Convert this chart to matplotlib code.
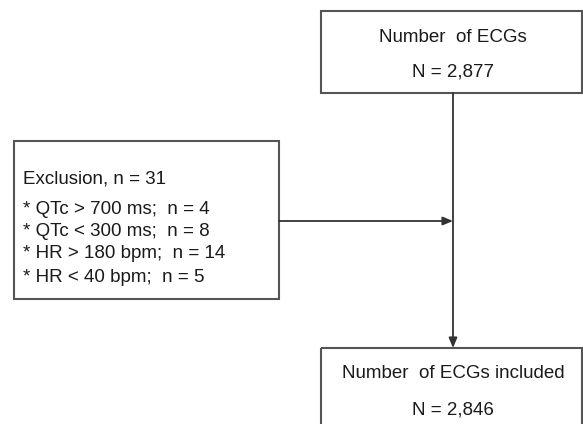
import matplotlib
matplotlib.use('Agg')
import matplotlib.pyplot as plt
from matplotlib.patches import Rectangle

# Flowchart text
top_lines = ['Number  of ECGs', 'N = 2,877']
exclusion_lines = [
    'Exclusion, n = 31',
    '* QTc > 700 ms;  n = 4',
    '* QTc < 300 ms;  n = 8',
    '* HR > 180 bpm;  n = 14',
    '* HR < 40 bpm;  n = 5',
]
bottom_lines = ['Number  of ECGs included', 'N = 2,846']

plt.rcParams['font.family'] = ['Liberation Sans', 'DejaVu Sans']
W, H = 583, 424
fig = plt.figure(figsize=(W / 100, H / 100), dpi=100)
ax = fig.add_axes([0, 0, 1, 1])
ax.set_xlim(0, W)
ax.set_ylim(H, 0)
ax.axis('off')

edge = '#555555'
txt = '#1a1a1a'
fs = 13.5

# boxes (x, y, w, h) in pixel coords
boxes = [(321, 11, 261, 82), (14, 141, 265, 158), (321, 348, 261, 100)]
for x, y, w, h in boxes:
    ax.add_patch(Rectangle((x, y), w, h, fill=False, edgecolor=edge, lw=1.5))

cx = 453
for line, y in zip(top_lines, [37, 72]):
    ax.text(cx, y, line, ha='center', va='center', fontsize=fs, color=txt)
for line, y in zip(bottom_lines, [373, 410]):
    ax.text(cx, y, line, ha='center', va='center', fontsize=fs, color=txt)
for line, y in zip(exclusion_lines, [179, 210, 232, 254, 277]):
    ax.text(23, y, line, ha='left', va='center', fontsize=fs, color=txt)

arrow = dict(arrowstyle='-|>,head_length=0.6,head_width=0.25', color='#333333', lw=1.3,
             shrinkA=0, shrinkB=0)
ax.annotate('', xy=(cx, 348), xytext=(cx, 93), arrowprops=arrow)
ax.annotate('', xy=(cx, 221), xytext=(279, 221), arrowprops=arrow)

fig.savefig('out.png', dpi=100, facecolor='white')
